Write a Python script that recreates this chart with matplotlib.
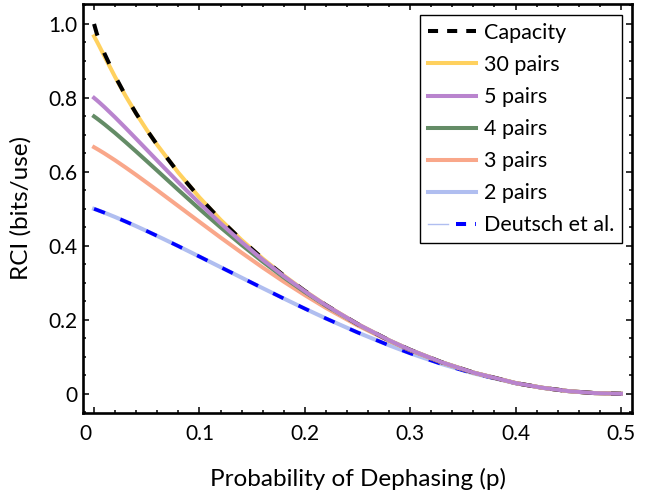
import matplotlib
matplotlib.use("Agg")
import matplotlib.pyplot as plt
import matplotlib.transforms as mtransforms
from matplotlib.lines import Line2D
from matplotlib.legend_handler import HandlerTuple
from matplotlib.ticker import MultipleLocator, FuncFormatter

plt.rcParams['font.family'] = ['Lato', 'DejaVu Sans']

# dephasing probability (x) and curves
p = [0, 0.0025, 0.005, 0.01, 0.02, 0.03, 0.04, 0.05, 0.06, 0.08, 0.1, 0.12, 0.14, 0.16,
     0.18, 0.2, 0.22, 0.25, 0.28, 0.3, 0.33, 0.36, 0.4, 0.425, 0.45, 0.475, 0.5]
capacity = [1.000, .9748, .9546, .9192, .8586, .8056, .7577, .7136, .6726, .5978, .5310, .4706, .4158, .3657,
            .3199, .2781, .2398, .1887, .1446, .1187, .0851, .0573, .0290, .0164, .0072, .0018, 0]
pairs30 = [.9667, .9536, .9399, .9116, .8565, .8050, .7575, .7135, .6726, .5978, .5310, .4706, .4158, .3657,
           .3199, .2781, .2398, .1887, .1446, .1187, .0851, .0573, .0290, .0164, .0072, .0018, 0]
pairs5 = [.8000, .7940, .7878, .7748, .7474, .7187, .6894, .6599, .6303, .5718, .5152, .4612, .4104, .3626,
          .3182, .2772, .2394, .1886, .1446, .1187, .0851, .0573, .0290, .0164, .0072, .0018, 0]
pairs4 = [.7500, .7449, .7395, .7284, .7050, .6803, .6549, .6291, .6032, .5510, .4998, .4501, .4026, .3574,
          .3148, .2751, .2381, .1880, .1443, .1186, .0851, .0573, .0290, .0164, .0072, .0018, 0]
pairs3 = [.6667, .6626, .6584, .6497, .6313, .6118, .5917, .5710, .5501, .5075, .4649, .4226, .3815, .3415,
          .3032, .2668, .2323, .1849, .1429, .1177, .0847, .0572, .0290, .0164, .0072, .0018, 0]
pairs2 = [.5000, .4975, .4948, .4894, .4779, .4657, .4531, .4401, .4267, .3992, .3710, .3425, .3140, .2856,
          .2576, .2303, .2037, .1659, .1310, .1094, .0803, .0551, .0284, .0163, .0072, .0018, 0]
deutsch = [.5000, .4975, .4948, .4894, .4779, .4657, .4531, .4401, .4267, .3992, .3710, .3425, .3140, .2856,
           .2576, .2303, .2037, .1659, .1310, .1094, .0803, .0551, .0284, .0163, .0072, .0018, 0]

c_yellow = '#FFD15E'
c_purple = '#B984CE'
c_green = '#648C66'
c_salmon = '#F9A78A'
c_lblue = '#B0BEF0'
c_blue = '#0000FF'
lw = 2.9

fig = plt.figure(figsize=(6.65, 4.98), dpi=100)
ax = fig.add_axes([83 / 665, 1 - 413 / 498, 549 / 665, 409 / 498])

ax.plot(p, pairs2, color=c_lblue, lw=lw, zorder=1)
ax.plot(p, deutsch, color=c_blue, lw=lw * 0.9, ls=(0, (3.2, 4.6)), zorder=2, dash_capstyle='butt')
ax.plot(p, pairs3, color=c_salmon, lw=lw, zorder=3)
ax.plot(p, pairs4, color=c_green, lw=lw, zorder=4)
ax.plot(p, pairs30, color=c_yellow, lw=lw, zorder=5)
ax.plot(p, capacity, color='black', lw=lw, ls=(0, (3, 4.6)), zorder=6, dash_capstyle='butt')
ax.plot(p, pairs5, color=c_purple, lw=lw, zorder=7)

ax.set_xlim(-0.0105, 0.5105)
ax.set_ylim(-0.052, 1.054)

ax.xaxis.set_major_locator(MultipleLocator(0.1))
ax.xaxis.set_minor_locator(MultipleLocator(0.02))
ax.yaxis.set_major_locator(MultipleLocator(0.2))
ax.yaxis.set_minor_locator(MultipleLocator(0.05))
fmt = FuncFormatter(lambda v, pos: '0' if abs(v) < 1e-9 else '%.1f' % v)
ax.xaxis.set_major_formatter(fmt)
ax.yaxis.set_major_formatter(fmt)

ax.tick_params(which='both', direction='in', top=True, right=True, width=1.1, labelsize=15)
ax.tick_params(which='major', length=4.3)
ax.tick_params(which='minor', length=2.3)
ax.tick_params(axis='x', pad=8)
ax.tick_params(axis='y', pad=4)
for s in ax.spines.values():
    s.set_linewidth(1.9)

# shift the "0" x label left like the original
fig.canvas.draw()
for lab in ax.get_xticklabels():
    if lab.get_text() == '0':
        lab.set_transform(lab.get_transform() + mtransforms.ScaledTranslation(-0.09, 0, fig.dpi_scale_trans))

ax.set_xlabel('Probability of Dephasing (p)', fontsize=17.5)
ax.set_ylabel('RCI (bits/use)', fontsize=17.5)
ax.xaxis.set_label_coords(0.5, -0.1345)
ax.yaxis.set_label_coords(-0.093, 0.5)

handles = [
    Line2D([], [], color='black', lw=lw, ls=(0, (2.5, 2.25)), dash_capstyle='butt'),
    Line2D([], [], color=c_yellow, lw=lw),
    Line2D([], [], color=c_purple, lw=lw),
    Line2D([], [], color=c_green, lw=lw),
    Line2D([], [], color=c_salmon, lw=lw),
    Line2D([], [], color=c_lblue, lw=lw),
    (Line2D([], [], color=c_lblue, lw=1.0),
     Line2D([], [], color=c_blue, lw=lw, ls=(0, (2.5, 2.25)), dash_capstyle='butt')),
]
labels = ['Capacity', '30 pairs', '5 pairs', '4 pairs', '3 pairs', '2 pairs', 'Deutsch et al.']
leg = ax.legend(handles, labels, loc='upper right', bbox_to_anchor=(0.9818, 0.9731),
                borderaxespad=0, fontsize=15.5, fancybox=False, framealpha=1, edgecolor='black',
                handlelength=2.23, handletextpad=0.37, borderpad=0.37, labelspacing=0.56,
                handler_map={tuple: HandlerTuple(ndivide=None)})
leg.get_frame().set_linewidth(1.0)

fig.savefig('out.png', dpi=100)
